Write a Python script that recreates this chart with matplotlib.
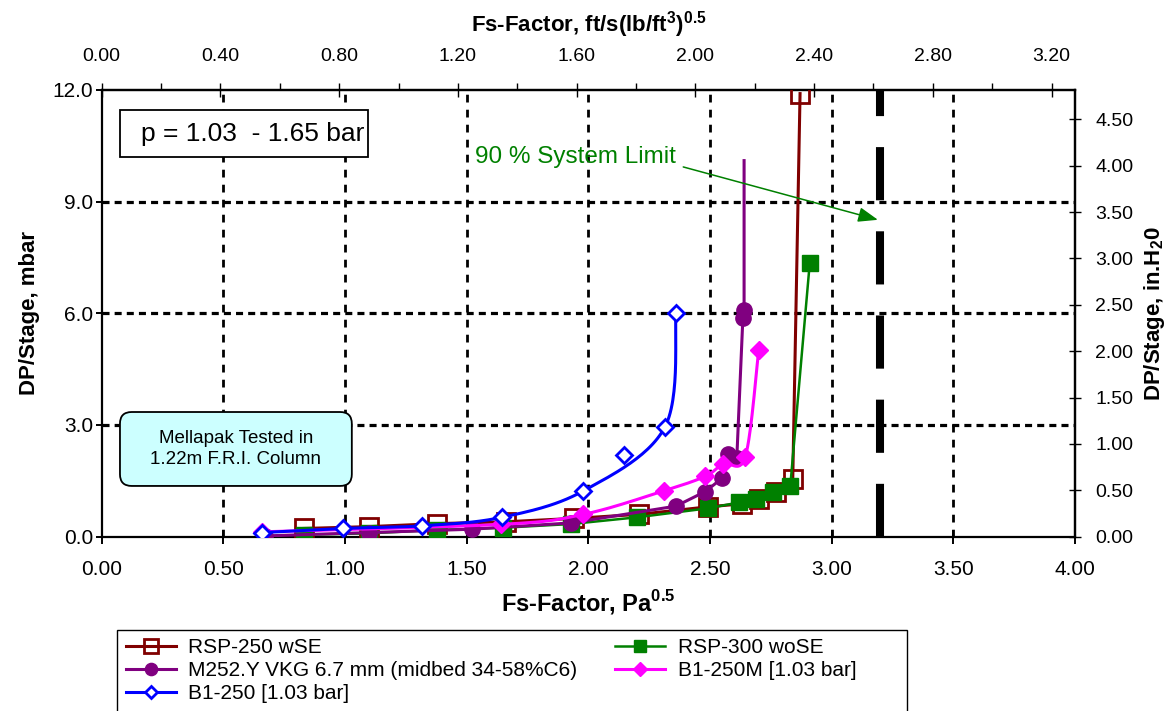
import numpy as np
import matplotlib
matplotlib.use("Agg")
import matplotlib.pyplot as plt
from matplotlib.patches import FancyBboxPatch, Rectangle

# pressure drop per stage vs. F-factor, Mellapak tests (1.22 m FRI column)
rsp250_x = [0.83, 1.10, 1.38, 1.66, 1.94, 2.21, 2.49, 2.63, 2.70, 2.77, 2.84, 2.87]
rsp250_y = [0.22, 0.27, 0.35, 0.40, 0.49, 0.60, 0.80, 0.88, 1.02, 1.21, 1.55, 11.90]

rsp300_x = [0.83, 1.10, 1.38, 1.65, 1.93, 2.20, 2.49, 2.62, 2.69, 2.76, 2.83, 2.91]
rsp300_y = [0.05, 0.09, 0.18, 0.24, 0.34, 0.52, 0.76, 0.92, 1.01, 1.21, 1.37, 7.36]

m252_x = [0.67, 1.10, 1.52, 1.93, 2.36, 2.48, 2.55, 2.575, 2.61, 2.635, 2.64, 2.64]
m252_y = [0.02, 0.11, 0.20, 0.37, 0.82, 1.21, 1.57, 2.22, 2.10, 5.87, 6.09, 10.10]

b1250m_x = [0.66, 1.64, 1.98, 2.31, 2.48, 2.555, 2.645, 2.70]
b1250m_y = [0.13, 0.33, 0.60, 1.23, 1.62, 1.96, 2.15, 5.00]

b1250_x = [0.66, 0.99, 1.315, 1.645, 1.98, 2.145, 2.315, 2.36]
b1250_y = [0.11, 0.22, 0.29, 0.52, 1.23, 2.18, 2.95, 6.02]
b1250_curve = [True, True, True, True, True, False, True, True]  # points used for the fitted curve

system_limit = 3.2
labels = ["RSP-250 wSE", "RSP-300 woSE", "M252.Y VKG 6.7 mm (midbed 34-58%C6)",
          "B1-250M [1.03 bar]", "B1-250 [1.03 bar]"]

PA_PER_FT = 1.2199      # Pa^0.5 per ft/s(lb/ft3)^0.5
INH2O_PER_MBAR = 0.40146


def smooth(x, y, n=30):
    # Catmull-Rom spline through the points
    p = np.column_stack([x, y]).astype(float)
    p = np.vstack([p[0], p, p[-1]])
    out = []
    t = np.linspace(0, 1, n)[:, None]
    for i in range(1, len(p) - 2):
        p0, p1, p2, p3 = p[i - 1], p[i], p[i + 1], p[i + 2]
        seg = 0.5 * ((2 * p1) + (-p0 + p2) * t + (2 * p0 - 5 * p1 + 4 * p2 - p3) * t ** 2
                     + (-p0 + 3 * p1 - 3 * p2 + p3) * t ** 3)
        out.append(seg)
    out = np.vstack(out)
    return out[:, 0], out[:, 1]


plt.rcParams["font.family"] = ["Liberation Sans", "DejaVu Sans"]
plt.rcParams["mathtext.fontset"] = "custom"
plt.rcParams["mathtext.rm"] = "Liberation Sans"
plt.rcParams["mathtext.bf"] = "Liberation Sans:bold"

fig = plt.figure(figsize=(11.74, 7.11), dpi=100)
ax = fig.add_axes([0.0866, 0.2452, 0.8291, 0.6284])

ax.set_xlim(0, 4)
ax.set_ylim(0, 12)

# dotted grid
for gx in np.arange(0.5, 4.0, 0.5):
    ax.axvline(gx, color="k", lw=2.0, ls=(0, (2.8, 2.6)), zorder=1)
for gy in [3, 6, 9]:
    ax.axhline(gy, color="k", lw=2.3, ls=(0, (2.2, 1.6)), zorder=1)

# series
ax.plot(rsp250_x, rsp250_y, color="#800000", lw=2.2, marker="s", ms=13,
        mfc="none", mew=2.0, mec="#800000", zorder=3, label=labels[0])
ax.plot(rsp300_x, rsp300_y, color="#008000", lw=1.8, marker="s", ms=11,
        mfc="#008000", mec="#008000", zorder=4, label=labels[1])
ax.plot(m252_x, m252_y, color="#800080", lw=2.2, marker="o", ms=11,
        mfc="#800080", mec="#800080", markevery=list(range(len(m252_x) - 1)),
        zorder=5, label=labels[2])
sx, sy = smooth(b1250m_x, b1250m_y)
ax.plot(sx, sy, color="#FF00FF", lw=2.2, zorder=6)
ax.plot(b1250m_x, b1250m_y, ls="none", marker="D", ms=9, mfc="#FF00FF",
        mec="#FF00FF", zorder=6)
cx = [v for v, k in zip(b1250_x, b1250_curve) if k]
cy = [v for v, k in zip(b1250_y, b1250_curve) if k]
sx, sy = smooth(cx, cy)
ax.plot(sx, sy, color="#0000FF", lw=2.2, zorder=7)
ax.plot(b1250_x, b1250_y, ls="none", marker="D", ms=8.5, mfc="white",
        mec="#0000FF", mew=2.0, zorder=7)

# system limit
ax.plot([system_limit, system_limit], [0, 12], color="k", lw=5.8,
        ls=(0, (6.6, 3.85)), solid_capstyle="butt", dash_capstyle="butt", zorder=2)
ax.text(1.535, 10.19, "90 % System Limit", color="#008000", fontsize=17.5,
        va="center", ha="left", zorder=8)
ax.annotate("", xy=(3.19, 8.51), xytext=(2.39, 9.93),
            arrowprops=dict(arrowstyle="-|>,head_length=1.2,head_width=0.45",
                            color="#008000", lw=1.1, shrinkA=0, shrinkB=0), zorder=8)

# boxes
ax.add_patch(Rectangle((0.0188, 0.850), 0.255, 0.105, transform=ax.transAxes,
                       facecolor="white", edgecolor="k", lw=1.3, zorder=8))
ax.text(0.040, 0.902, "p = 1.03  - 1.65 bar", transform=ax.transAxes,
        fontsize=19, va="center", ha="left", zorder=9)
ax.add_patch(FancyBboxPatch((0.0188, 0.1135), 0.2382, 0.1655,
                            boxstyle="round,pad=0,rounding_size=0.012",
                            mutation_aspect=2.18, transform=ax.transAxes,
                            facecolor="#CCFFFF", edgecolor="k", lw=1.3, zorder=8))
ax.text(0.138, 0.196, "Mellapak Tested in\n1.22m F.R.I. Column", transform=ax.transAxes,
        fontsize=13.5, va="center", ha="center", linespacing=1.35, zorder=9)

# axes, ticks
for s in ax.spines.values():
    s.set_linewidth(1.6)
ax.set_xticks(np.arange(0, 4.01, 0.5))
ax.set_xticklabels([f"{v:.2f}" for v in np.arange(0, 4.01, 0.5)])
ax.set_yticks(np.arange(0, 12.01, 3))
ax.set_yticklabels([f"{v:.1f}" for v in np.arange(0, 12.01, 3)])
ax.tick_params(axis="x", direction="inout", length=10, width=1.4, labelsize=15, pad=12)
ax.tick_params(axis="y", direction="out", length=4, width=1.4, labelsize=15, pad=2)
ax.set_xlabel("Fs-Factor, Pa$^{\\mathbf{0.5}}$", fontsize=17, fontweight="bold", labelpad=6)
ax.set_ylabel("DP/Stage, mbar", fontsize=16, fontweight="bold", labelpad=9)

top = ax.secondary_xaxis("top", functions=(lambda v: v / PA_PER_FT, lambda v: v * PA_PER_FT))
top.set_xticks(np.arange(0, 3.21, 0.4))
top.set_xticklabels([f"{v:.2f}" for v in np.arange(0, 3.21, 0.4)])
top.set_xticks(np.arange(0.2, 3.3, 0.4), minor=True)
top.tick_params(which="major", direction="inout", length=10, width=1.0, labelsize=14, pad=13)
top.tick_params(which="minor", direction="out", length=5, width=1.0)
top.spines["top"].set_linewidth(1.6)
top.set_xlabel("Fs-Factor, ft/s(lb/ft$^{\\mathbf{3}}$)$^{\\mathbf{0.5}}$", fontsize=16,
               fontweight="bold", labelpad=12)

right = ax.secondary_yaxis("right", functions=(lambda v: v * INH2O_PER_MBAR,
                                               lambda v: v / INH2O_PER_MBAR))
right.set_yticks(np.arange(0, 4.51, 0.5))
right.set_yticklabels([f"{v:.2f}" for v in np.arange(0, 4.51, 0.5)])
right.tick_params(direction="inout", length=9, width=1.0, labelsize=14, pad=10)
right.spines["right"].set_linewidth(1.6)
right.set_ylabel("DP/Stage, in.H$_{\\mathbf{2}}$0", fontsize=16, fontweight="bold", labelpad=6)

# legend: two columns, row order as in the series list, framed by hand
h = {}
for line in ax.get_lines():
    if line.get_label() in labels:
        h[line.get_label()] = line
h3 = plt.Line2D([], [], color="#FF00FF", lw=2.2, marker="D", ms=9, mfc="#FF00FF", mec="#FF00FF")
h4 = plt.Line2D([], [], color="#0000FF", lw=2.2, marker="D", ms=8, mfc="white",
                mec="#0000FF", mew=2.0)
handles = [h[labels[0]], h[labels[2]], h4, h[labels[1]], h3]
leg_labels = [labels[0], labels[2], labels[4], labels[1], labels[3]]
fig.legend(handles, leg_labels, ncol=2, loc="upper left",
           bbox_to_anchor=(126 / 1174, 1 - 638 / 711), frameon=False,
           fontsize=15, handlelength=2.4, handletextpad=0.6, labelspacing=0.2,
           borderpad=0.0, borderaxespad=0, columnspacing=1.8, markerscale=0.8)
fig.patches.append(Rectangle((117 / 1174, -0.01), 790 / 1174, 81 / 711 + 0.01,
                             transform=fig.transFigure, facecolor="none",
                             edgecolor="k", lw=1.0))

fig.savefig("out.png", dpi=100)
